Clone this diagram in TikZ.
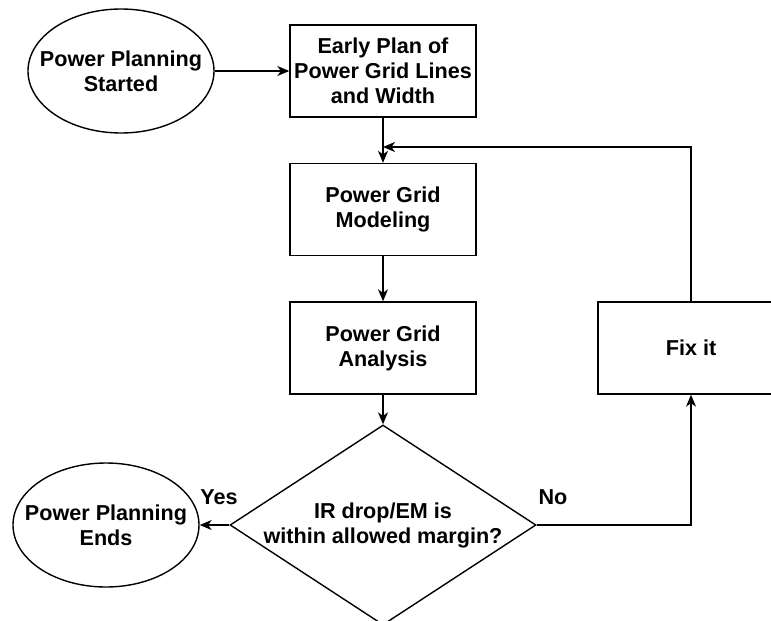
\documentclass[tikz,border=0pt]{standalone}
\usepackage{fontspec}
\setmainfont{Liberation Sans}
\usetikzlibrary{shapes.geometric,arrows.meta}

\begin{document}
\begin{tikzpicture}[x=0.5pt, y=-0.5pt, line width=0.7pt,
  every node/.style={font=\fontsize{10.8}{12.5}\selectfont\bfseries, align=center},
  box/.style={draw, minimum width=93pt, minimum height=46pt, inner sep=0pt},
  oval/.style={draw, ellipse, minimum width=93pt, minimum height=62pt, inner sep=0pt},
  arr/.style={-{Stealth[length=6pt, width=5pt, inset=1.8pt]}}]
  % Page, same size as the reference.
  \useasboundingbox (0,0) rectangle (771,621);
  \clip (0,0) rectangle (771,621);
  % Main column.
  \node[oval] (start) at (121,71) {};
  \node (starttext) at (start) {Power Planning\\Started};
  \node[box] (early) at (383,71) {Early Plan of\\Power Grid Lines\\and Width};
  \node[box] (model) at (383,209.5) {Power Grid\\Modeling};
  \node[box] (analysis) at (383,348) {Power Grid\\Analysis};
  \node[draw, diamond, minimum width=153pt, minimum height=100pt, inner sep=0pt] (check) at (383,525) {};
  \node (checktext) at (check) {IR drop/EM is\\within allowed margin?};
  % Side nodes.
  \node[box] (fix) at (691,348) {Fix it};
  \node[oval] (end) at (106,525) {};
  \node (endtext) at (end) {Power Planning\\Ends};
  \coordinate (join) at (383,147);
  % Arrows.
  \draw[arr] (start) -- (early);
  \draw[arr] (early) -- (model);
  \draw[arr] (model) -- (analysis);
  \draw[arr] (analysis) -- (check.north);
  \draw[arr] (check.west) -- (end);
  \draw[arr] (check.east) -| (fix.south);
  \draw[arr] (fix.north) |- (join);
  % Labels.
  \node (yes) at (219,497) {Yes};
  \node (no) at (553,497) {No};
\end{tikzpicture}
\end{document}
